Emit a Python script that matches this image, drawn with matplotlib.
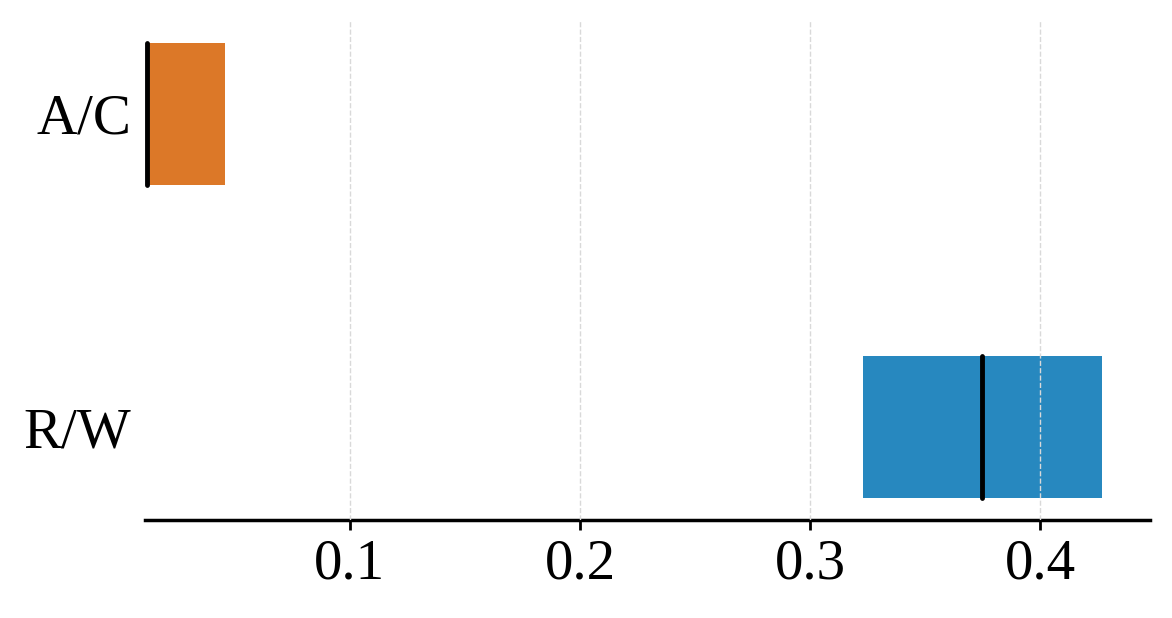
import matplotlib
matplotlib.use("Agg")
import matplotlib.pyplot as plt

categories = ["A/C", "R/W"]
q1 = [0.0117, 0.323]
q3 = [0.0457, 0.427]
medians = [0.0117, 0.3748]
colors = ["#dc7828", "#2788bf"]
xticks = [0.1, 0.2, 0.3, 0.4]

plt.rcParams['font.family'] = ['Liberation Serif', 'DejaVu Serif']

fig = plt.figure(figsize=(11.72, 6.18), dpi=100)
ax = fig.add_axes([0.1237, 0.1586, 0.9812 - 0.1237, 0.966 - 0.1586])

ypos = list(range(len(categories)))
for y, a, b, m, c in zip(ypos, q1, q3, medians, colors):
    ax.barh(y, b - a, left=a, height=0.454, color=c, zorder=2)
    ax.vlines(m, y - 0.227, y + 0.227, color="black", linewidth=3.5, zorder=3, capstyle="round")

ax.set_yticks(ypos)
ax.set_yticklabels(categories)
ax.set_xticks(xticks)
ax.set_xticklabels([f"{v:.1f}" for v in xticks])
ax.set_xlim(0.0109, 0.4478)
ax.set_ylim(1.297, -0.297)

ax.grid(axis="x", linestyle="--", color="#d9d9d9", linewidth=1.0, zorder=4)
ax.set_axisbelow(False)
for s in ["top", "right", "left"]:
    ax.spines[s].set_visible(False)
ax.spines["bottom"].set_linewidth(2.5)
ax.tick_params(axis="x", labelsize=41, length=7, width=2, pad=6)
ax.tick_params(axis="y", labelsize=41, length=0, pad=10)

fig.savefig("out.png", dpi=100)
